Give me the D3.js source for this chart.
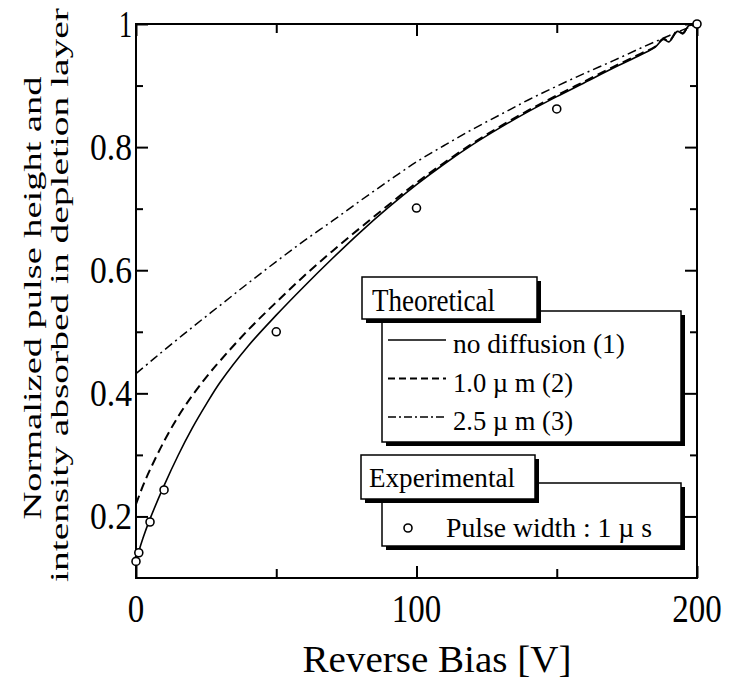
<!DOCTYPE html>
<html>
<head>
<meta charset="utf-8">
<script src="https://cdn.jsdelivr.net/npm/d3@7"></script>
<style>
    body { margin: 0; background: #fff; }
    text { font-family: "Liberation Serif", Tinos, "Times New Roman", Times, "Nimbus Roman", "FreeSerif", serif; fill: #000; }
</style>
</head>
<body>
<svg id="chart" width="735" height="681"></svg>
<script>
// curve (1): no diffusion
const noDiffV = [0, 1, 2.5, 5, 10, 15, 20, 25, 30, 40, 50, 60, 70, 80, 90, 100, 110, 120, 130, 140, 150, 160, 170, 180, 185, 188, 190, 193, 195, 197, 200];
const noDiffY = [0.125, 0.143, 0.165, 0.196, 0.25, 0.299, 0.343, 0.382, 0.418, 0.477, 0.527, 0.574, 0.619, 0.662, 0.702, 0.739, 0.773, 0.804, 0.832, 0.858, 0.882, 0.905, 0.928, 0.95, 0.962, 0.975, 0.971, 0.988, 0.984, 0.997, 1.0];

// curve (2): 1.0 um diffusion
const diff10V = [0, 2.5, 5, 10, 15, 20, 25, 30, 40, 50, 60, 70, 80, 90, 100, 110, 120, 130, 140, 150, 160, 170, 180, 185, 188, 190, 193, 195, 197, 200];
const diff10Y = [0.22, 0.25, 0.276, 0.322, 0.362, 0.396, 0.426, 0.453, 0.503, 0.548, 0.591, 0.631, 0.669, 0.706, 0.742, 0.775, 0.806, 0.834, 0.86, 0.884, 0.907, 0.93, 0.952, 0.963, 0.976, 0.972, 0.989, 0.985, 0.997, 1.0];

// curve (3): 2.5 um diffusion
const diff25V = [0, 5, 10, 20, 30, 40, 50, 60, 70, 80, 90, 100, 110, 120, 130, 140, 150, 160, 170, 180, 190, 200];
const diff25Y = [0.432, 0.451, 0.47, 0.507, 0.543, 0.579, 0.614, 0.648, 0.68, 0.713, 0.745, 0.776, 0.803, 0.829, 0.853, 0.877, 0.899, 0.92, 0.94, 0.961, 0.981, 1.0];

// experimental points, pulse width 1 us
const expV = [0, 1, 5, 10, 50, 100, 150, 200];
const expY = [0.127, 0.141, 0.191, 0.243, 0.5, 0.701, 0.862, 1.0];

// ticks
const xTicks = [0, 100, 200];
const xMinor = [50, 150];
const yTicks = [0.2, 0.4, 0.6, 0.8, 1];
const yTickLabels = ["0.2", "0.4", "0.6", "0.8", "1"];
const yMinor = [0.3, 0.5, 0.7, 0.9];

const theoLabels = ["no diffusion (1)", "1.0 \u00b5 m (2)", "2.5 \u00b5 m (3)"];
const expLabel = "Pulse width : 1 \u00b5 s";

const width = 735, height = 681;
const margin = { top: 24, right: 38, bottom: 103, left: 136 };
const svg = d3.select("#chart");

const x = d3.scaleLinear().domain([0, 200]).range([margin.left, width - margin.right]);
const y = d3.scaleLinear().domain([0.1, 1]).range([height - margin.bottom, margin.top]);

// frame
svg.append("rect")
    .attr("x", x(0)).attr("y", y(1))
    .attr("width", x(200) - x(0)).attr("height", y(0.1) - y(1))
    .attr("fill", "none").attr("stroke", "#000").attr("stroke-width", 2);

// inward ticks on all four sides
function ticks(axis, vals, len, transform) {
    svg.append("g")
        .attr("transform", transform)
        .call(axis.tickValues(vals).tickSize(-len).tickFormat(""))
        .call(g => g.select(".domain").remove())
        .selectAll(".tick line").attr("stroke-width", 2);
}
ticks(d3.axisBottom(x), xTicks, 12, `translate(0,${y(0.1)})`);
ticks(d3.axisBottom(x), xMinor, 9, `translate(0,${y(0.1)})`);
ticks(d3.axisTop(x), xTicks, 12, `translate(0,${y(1)})`);
ticks(d3.axisTop(x), xMinor, 9, `translate(0,${y(1)})`);
ticks(d3.axisLeft(y), yTicks, 12, `translate(${x(0)},0)`);
ticks(d3.axisLeft(y), yMinor, 7, `translate(${x(0)},0)`);
ticks(d3.axisRight(y), yTicks, 12, `translate(${x(200)},0)`);
ticks(d3.axisRight(y), yMinor, 7, `translate(${x(200)},0)`);

// tick labels (narrow, tall serif like the original)
svg.selectAll(".ylab")
    .data(yTicks)
    .join("text")
    .attr("class", "ylab")
    .attr("x", x(0) - 4)
    .attr("y", d => y(d) + 13)
    .attr("text-anchor", "end")
    .attr("font-size", 37)
    .attr("textLength", (d, i) => yTickLabels[i].length === 1 ? 13 : 42)
    .attr("lengthAdjust", "spacingAndGlyphs")
    .text((d, i) => yTickLabels[i]);

svg.selectAll(".xlab")
    .data(xTicks)
    .join("text")
    .attr("class", "xlab")
    .attr("x", d => x(d))
    .attr("y", 622)
    .attr("text-anchor", "middle")
    .attr("font-size", 41)
    .attr("textLength", d => String(d).length * 16.5)
    .attr("lengthAdjust", "spacingAndGlyphs")
    .text(d => d);

// axis titles
svg.append("text")
    .attr("x", 437).attr("y", 672)
    .attr("text-anchor", "middle")
    .attr("font-size", 38)
    .attr("textLength", 269)
    .attr("lengthAdjust", "spacingAndGlyphs")
    .text("Reverse Bias [V]");

svg.append("text")
    .attr("transform", "translate(41,298) rotate(-90)")
    .attr("text-anchor", "middle")
    .attr("font-size", 26)
    .attr("textLength", 443)
    .attr("lengthAdjust", "spacingAndGlyphs")
    .text("Normalized pulse height and");
svg.append("text")
    .attr("transform", "translate(68,295) rotate(-90)")
    .attr("text-anchor", "middle")
    .attr("font-size", 26)
    .attr("textLength", 574)
    .attr("lengthAdjust", "spacingAndGlyphs")
    .text("intensity absorbed in depletion layer");

// curves
const line = d3.line().x(d => x(d[0])).y(d => y(d[1])).curve(d3.curveCatmullRom.alpha(0.5));
const curves = [
    { v: noDiffV, y: noDiffY, dash: null, key: null, w: 1.6 },
    { v: diff10V, y: diff10Y, dash: "9,5", key: "7,4", w: 2 },
    { v: diff25V, y: diff25Y, dash: "9,4,2,4", key: "8,3,2,3", w: 1.5 }
];
svg.selectAll(".curve")
    .data(curves)
    .join("path")
    .attr("class", "curve")
    .attr("d", c => line(c.v.map((v, i) => [v, c.y[i]])))
    .attr("fill", "none")
    .attr("stroke", "#000")
    .attr("stroke-width", c => c.w)
    .attr("stroke-dasharray", c => c.dash);

// experimental points
svg.selectAll(".pt")
    .data(expV.map((v, i) => [v, expY[i]]))
    .join("circle")
    .attr("class", "pt")
    .attr("cx", d => x(d[0]))
    .attr("cy", d => y(d[1]))
    .attr("r", 4)
    .attr("fill", "#fff")
    .attr("stroke", "#000")
    .attr("stroke-width", 1.6);

// legend boxes with drop shadow
function shadowBox(bx, by, bw, bh) {
    svg.append("rect").attr("x", bx + 4).attr("y", by + 4)
        .attr("width", bw).attr("height", bh).attr("fill", "#000");
    svg.append("rect").attr("x", bx).attr("y", by)
        .attr("width", bw).attr("height", bh)
        .attr("fill", "#fff").attr("stroke", "#000").attr("stroke-width", 1.5);
}
function legendText(tx, ty, size, len, str) {
    svg.append("text")
        .attr("x", tx).attr("y", ty)
        .attr("font-size", size)
        .attr("textLength", len)
        .attr("lengthAdjust", "spacingAndGlyphs")
        .text(str);
}

shadowBox(382, 311, 299, 131);
shadowBox(362, 277, 175, 42);
legendText(372, 311, 31, 123, "Theoretical");

theoLabels.forEach((lab, i) => {
    const by = 353 + i * 38.5;
    svg.append("line")
        .attr("x1", 388).attr("x2", 446)
        .attr("y1", by - 13).attr("y2", by - 13)
        .attr("stroke", "#000")
        .attr("stroke-width", curves[i].w)
        .attr("stroke-dasharray", curves[i].key);
    legendText(453, by, 27, i === 0 ? 172 : 120, lab);
});

shadowBox(382, 483, 299, 63);
shadowBox(361, 455, 174, 44);
legendText(369, 487, 28, 146, "Experimental");

svg.append("circle")
    .attr("cx", 408).attr("cy", 528).attr("r", 4)
    .attr("fill", "#fff").attr("stroke", "#000").attr("stroke-width", 1.6);
legendText(446, 537, 27, 206, expLabel);
</script>
</body>
</html>
